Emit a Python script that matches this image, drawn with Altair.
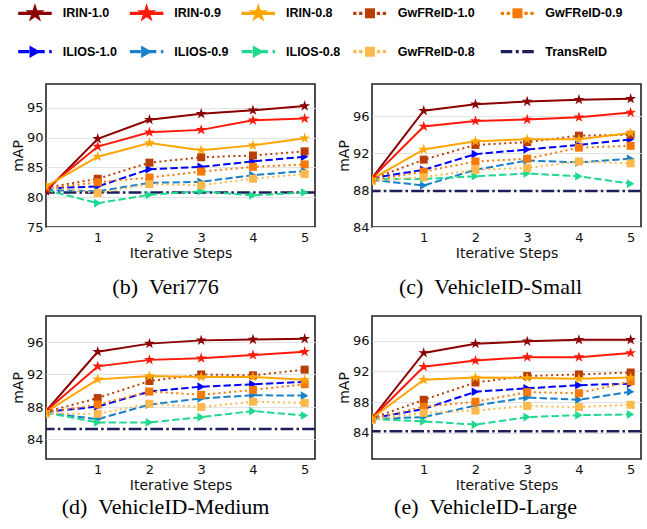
import altair as alt
import pandas as pd

steps = [0, 1, 2, 3, 4, 5]
x_ticks = [1, 2, 3, 4, 5]

legend_order = ["IRIN-1.0", "IRIN-0.9", "IRIN-0.8", "GwFReID-1.0", "GwFReID-0.9",
                "ILIOS-1.0", "ILIOS-0.9", "ILIOS-0.8", "GwFReID-0.8", "TransReID"]

# (b) Veri776
veri_irin_10 = [81.0, 89.8, 93.0, 94.0, 94.6, 95.3]
veri_irin_09 = [81.4, 88.5, 90.9, 91.3, 92.9, 93.2]
veri_irin_08 = [81.8, 86.8, 89.1, 87.9, 88.7, 89.9]
veri_gwf_10 = [81.6, 83.1, 85.8, 86.7, 87.0, 87.7]
veri_gwf_09 = [81.5, 82.5, 83.3, 84.3, 85.1, 85.5]
veri_gwf_08 = [81.7, 80.7, 82.2, 82.0, 83.1, 83.9]
veri_ilios_10 = [81.5, 81.8, 84.7, 85.1, 86.0, 86.8]
veri_ilios_09 = [81.2, 81.0, 82.4, 82.6, 83.7, 84.4]
veri_ilios_08 = [81.2, 79.0, 80.4, 81.0, 80.3, 80.8]
veri_transreid = 80.8

# (c) VehicleID-Small
small_irin_10 = [89.3, 96.6, 97.3, 97.6, 97.8, 97.9]
small_irin_09 = [89.3, 94.9, 95.5, 95.65, 95.9, 96.4]
small_irin_08 = [89.2, 92.4, 93.3, 93.5, 93.5, 94.2]
small_gwf_10 = [89.2, 91.3, 92.9, 93.2, 93.9, 94.0]
small_gwf_09 = [89.1, 90.0, 91.1, 91.4, 92.6, 92.8]
small_gwf_08 = [89.0, 89.4, 90.2, 90.4, 91.1, 90.9]
small_ilios_10 = [89.3, 90.2, 91.9, 92.4, 92.9, 93.5]
small_ilios_09 = [89.1, 88.5, 90.2, 91.2, 91.0, 91.4]
small_ilios_08 = [89.2, 89.2, 89.5, 89.8, 89.5, 88.7]
small_transreid = 87.9

# (d) VehicleID-Medium
medium_irin_10 = [87.5, 94.8, 95.8, 96.2, 96.3, 96.4]
medium_irin_09 = [87.5, 93.0, 93.8, 94.0, 94.4, 94.8]
medium_irin_08 = [87.4, 91.4, 91.8, 91.7, 91.7, 91.35]
medium_gwf_10 = [87.4, 89.1, 91.2, 92.0, 91.9, 92.6]
medium_gwf_09 = [87.3, 88.3, 89.9, 89.5, 90.1, 90.8]
medium_gwf_08 = [87.2, 87.15, 88.4, 88.0, 88.65, 88.5]
medium_ilios_10 = [87.4, 88.05, 89.9, 90.5, 90.8, 91.1]
medium_ilios_09 = [87.3, 86.5, 88.3, 89.05, 89.45, 89.4]
medium_ilios_08 = [87.3, 86.1, 86.1, 86.75, 87.5, 86.95]
medium_transreid = 85.3

# (e) VehicleID-Large
large_irin_10 = [85.9, 94.4, 95.6, 95.9, 96.1, 96.1]
large_irin_09 = [85.9, 92.6, 93.4, 93.85, 93.85, 94.4]
large_irin_08 = [85.9, 90.9, 91.2, 91.15, 91.05, 91.2]
large_gwf_10 = [85.9, 88.3, 90.55, 91.4, 91.6, 91.85]
large_gwf_09 = [85.8, 87.4, 88.05, 89.3, 89.15, 90.7]
large_gwf_08 = [85.7, 86.6, 86.9, 87.5, 87.35, 87.65]
large_ilios_10 = [85.9, 87.1, 89.35, 89.8, 90.2, 90.4]
large_ilios_09 = [85.8, 86.05, 87.55, 88.6, 88.3, 89.35]
large_ilios_08 = [85.8, 85.5, 85.07, 86.05, 86.3, 86.4]
large_transreid = 84.2

colors = {
    "IRIN-1.0": "#8b0000", "IRIN-0.9": "#ff1a0a", "IRIN-0.8": "#ffa500",
    "GwFReID-1.0": "#b83e05", "GwFReID-0.9": "#f57a05", "GwFReID-0.8": "#fdb94c",
    "ILIOS-1.0": "#0000ff", "ILIOS-0.9": "#1a80c8", "ILIOS-0.8": "#20d890",
    "TransReID": "#1e1e5a",
}
# five-pointed star symbol in Vega's unit box [-1, 1]
STAR = ("M0,-1L0.225,-0.309L0.951,-0.309L0.363,0.118L0.588,0.809L0,0.382"
        "L-0.588,0.809L-0.363,0.118L-0.951,-0.309L-0.225,-0.309Z")
# (series group, shape, plot marker size, legend marker size, plot dash, legend dash)
styles = [
    (["IRIN-1.0", "IRIN-0.9", "IRIN-0.8"], STAR, 130, 420, None, None),
    (["GwFReID-1.0", "GwFReID-0.9", "GwFReID-0.8"], "square", 64, 100, [2, 3.3], [3.3, 2.6]),
    (["ILIOS-1.0", "ILIOS-0.9", "ILIOS-0.8"], "triangle-right", 75, 160, [7.4, 3.2], [11, 4.5]),
]
trans_plot_dash = [12.8, 3.2, 2.5, 3.2]
trans_legend_dash = [11.5, 3.5, 3, 3.5]
names = ["IRIN-1.0", "IRIN-0.9", "IRIN-0.8", "GwFReID-1.0", "GwFReID-0.9",
         "GwFReID-0.8", "ILIOS-1.0", "ILIOS-0.9", "ILIOS-0.8"]
W, H = 269, 143

color_enc = alt.Color("series:N", scale=alt.Scale(domain=list(colors), range=list(colors.values())),
                      legend=None)
frame = alt.ViewBackground(stroke="#222", strokeWidth=1.6)
no_frame = alt.ViewBackground(stroke="transparent", strokeWidth=0)


def panel(lists, trans, ydom, yticks):
    rows = []
    for n, vals in zip(names, lists):
        for s, v in zip(steps, vals):
            rows.append({"series": n, "step": s, "value": v})
    rows.append({"series": "TransReID", "step": 0, "value": trans})
    df = pd.DataFrame(rows)
    x = alt.X("step:Q", scale=alt.Scale(domain=[0, 5.2], nice=False, zero=False),
              axis=alt.Axis(values=x_ticks, title="Iterative Steps", grid=False, domain=False,
                            ticks=False, labelPadding=4, titlePadding=2))
    y = alt.Y("value:Q", scale=alt.Scale(domain=ydom, nice=False, zero=False),
              axis=alt.Axis(values=yticks, title="mAP", grid=True, domain=False, ticks=False,
                            labelPadding=3, titlePadding=1))
    base = alt.Chart(df)
    layers = [base.transform_filter(alt.datum.series == "TransReID")
              .mark_rule(strokeWidth=2.5, strokeDash=trans_plot_dash).encode(y=y, color=color_enc)]
    for group, shp, size, _, pdash, _ in reversed(styles):
        g = base.transform_filter(alt.FieldOneOfPredicate(field="series", oneOf=group))
        if pdash:
            ln = g.mark_line(strokeWidth=2, strokeDash=pdash, clip=True)
        else:
            ln = g.mark_line(strokeWidth=2, clip=True)
        layers.append(ln.encode(x=x, y=y, color=color_enc, detail="series:N"))
        layers.append(g.mark_point(shape=shp, size=size, filled=True, opacity=1, clip=True)
                      .encode(x=x, y=y, color=color_enc))
    return alt.layer(*layers).properties(width=W, height=H, view=frame)


def caption(text, shift, h, lift):
    return alt.Chart(pd.DataFrame({"caption": [text]})).mark_text(
        font="Liberation Serif", fontSize=22, color="black", dx=shift, dy=lift, baseline="middle"
    ).encode(text="caption:N").properties(width=W, height=h, view=no_frame)


pb = panel([veri_irin_10, veri_irin_09, veri_irin_08, veri_gwf_10, veri_gwf_09, veri_gwf_08,
            veri_ilios_10, veri_ilios_09, veri_ilios_08], veri_transreid, [75, 99],
           [75, 80, 85, 90, 95])
pc = panel([small_irin_10, small_irin_09, small_irin_08, small_gwf_10, small_gwf_09, small_gwf_08,
            small_ilios_10, small_ilios_09, small_ilios_08], small_transreid, [84, 99.5],
           [84, 88, 92, 96])
pd_ = panel([medium_irin_10, medium_irin_09, medium_irin_08, medium_gwf_10, medium_gwf_09,
             medium_gwf_08, medium_ilios_10, medium_ilios_09, medium_ilios_08], medium_transreid,
            [81.6, 99.2], [84, 88, 92, 96])
pe = panel([large_irin_10, large_irin_09, large_irin_08, large_gwf_10, large_gwf_09, large_gwf_08,
            large_ilios_10, large_ilios_09, large_ilios_08], large_transreid, [80.6, 99.2],
           [84, 88, 92, 96])

left_col = alt.vconcat(pb, caption("(b)\u2002Veri776", -15, 50, -1), pd_,
                       caption("(d)\u2002VehicleID-Medium", -15, 28, -2), spacing=2)
right_col = alt.vconcat(pc, caption("(c)\u2002VehicleID-Small", -16, 50, -1), pe,
                        caption("(e)\u2002VehicleID-Large", -21, 28, -2), spacing=2)
grid = alt.hconcat(left_col, right_col, spacing=18)

# legend (5 columns x 2 rows, in the reference's order), positioned relative to panel (b)
leg_df = pd.DataFrame({
    "series": legend_order,
    "row": [i // 5 for i in range(len(legend_order))],
    "col": [i % 5 for i in range(len(legend_order))],
})
lx = alt.X("col:Q", scale=alt.Scale(domain=[0, 3], range=[-27.8, 307.2], nice=False, zero=False),
           axis=None)
ly = alt.Y("row:Q", scale=alt.Scale(domain=[0, 1], range=[13.3, 51.7], nice=False, zero=False),
           axis=None)
lbase = alt.Chart(leg_df)
leg_layers = []
last_col_shift = 35.9
for cols, shift in (([0, 1, 2, 3], 0), ([4], last_col_shift)):
    part = lbase.transform_filter(alt.FieldOneOfPredicate(field="col", oneOf=cols))
    for group, shp, _, lsize, _, ldash in styles + [(["TransReID"], None, 0, 0, None, trans_legend_dash)]:
        gp = part.transform_filter(alt.FieldOneOfPredicate(field="series", oneOf=group))
        rkw = dict(strokeWidth=3.3, xOffset=shift, x2Offset=shift + 33.5)
        if ldash:
            rkw["strokeDash"] = ldash
        leg_layers.append(gp.mark_rule(**rkw).encode(x=lx, x2=alt.X2("col"), y=ly, color=color_enc))
        if shp:
            leg_layers.append(gp.mark_point(shape=shp, size=lsize, filled=True, opacity=1,
                                            xOffset=shift + 16.75).encode(x=lx, y=ly, color=color_enc))
    leg_layers.append(part.mark_text(align="left", baseline="middle", dx=44.5 + shift,
                                     font="Liberation Sans", fontWeight="bold", fontSize=12.5,
                                     color="black").encode(x=lx, y=ly, text="series:N"))
legend = alt.layer(*leg_layers).properties(width=560, height=66, view=no_frame)

chart = alt.vconcat(legend, grid, spacing=17).properties(
    padding={"left": 10, "top": 0, "right": 0, "bottom": 0}
).configure_axis(
    labelFont="DejaVu Sans", labelFontSize=13, labelColor="#111",
    titleFont="DejaVu Sans", titleFontSize=14, titleFontWeight="normal", titleColor="#111",
    gridColor="#e3e3e3", gridWidth=1,
)

chart.save("out.html", embed_options={"renderer": "svg", "actions": False})
